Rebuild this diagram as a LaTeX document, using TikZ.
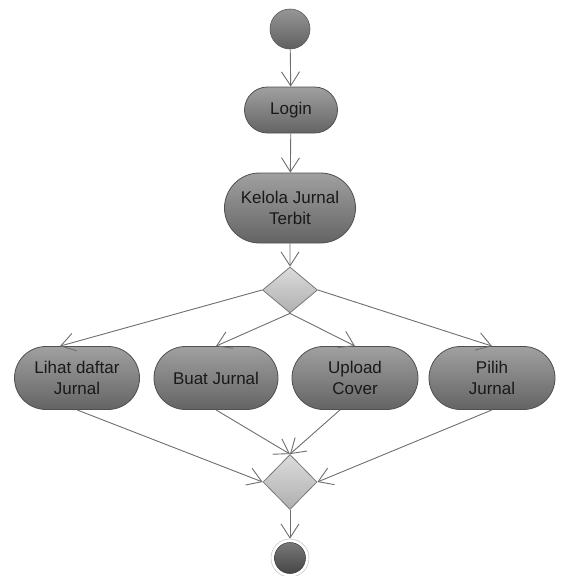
\documentclass[tikz,border=0pt]{standalone}
\usepackage{fontspec}
\setmainfont{Liberation Sans}
\usetikzlibrary{shapes.misc,shapes.geometric,arrows.meta,calc}
\begin{document}
\begin{tikzpicture}[x=1pt,y=-1pt,
  act/.style={rounded rectangle, draw={rgb,255:red,80;green,80;blue,80}, line width=0.8pt,
    top color={rgb,255:red,160;green,160;blue,160}, bottom color={rgb,255:red,100;green,100;blue,100},
    minimum height=63pt, inner sep=2pt, align=center, font=\fontsize{17}{21}\selectfont, text=black!90},
  dec/.style={diamond, draw={rgb,255:red,120;green,120;blue,120}, line width=0.8pt, inner sep=0pt,
    top color={rgb,255:red,220;green,220;blue,220}, bottom color={rgb,255:red,175;green,175;blue,175}},
  flow/.style={draw={rgb,255:red,110;green,110;blue,110}, line width=0.9pt,
    -{Straight Barb[length=14pt,width=18pt,line width=0.9pt]}}]
\useasboundingbox (0,0) rectangle (561,576);
\node[circle, draw={rgb,255:red,90;green,90;blue,90}, line width=0.6pt, minimum size=40pt, inner sep=0pt,
  top color={rgb,255:red,150;green,150;blue,150}, bottom color={rgb,255:red,95;green,95;blue,95}] (start) at (290,29) {};
\node[act, minimum width=97pt, minimum height=46pt] (login) at (291,110) {Login};
\node[act, minimum width=135pt, minimum height=70pt] (kelola) at (290,208) {Kelola Jurnal\\Terbit};
\node[dec, minimum width=55pt, minimum height=46pt] (d1) at (290,290) {};
\node[act, minimum width=129pt] (lihat) at (77,378) {Lihat daftar\\Jurnal};
\node[act, minimum width=128pt] (buat) at (216,378) {Buat Jurnal};
\node[act, minimum width=130pt] (upload) at (355,378) {Upload\\Cover};
\node[act, minimum width=130pt] (pilih) at (492,378) {Pilih\\Jurnal};
\node[dec, minimum width=54pt, minimum height=55pt] (d2) at (290,482) {};
\node[circle, draw={rgb,255:red,200;green,200;blue,200}, line width=0.6pt, minimum size=38pt, inner sep=0pt] (endring) at (290,558) {};
\node[circle, draw={rgb,255:red,70;green,70;blue,70}, line width=0.6pt, minimum size=31pt, inner sep=0pt,
  top color={rgb,255:red,120;green,120;blue,120}, bottom color={rgb,255:red,70;green,70;blue,70}] (end) at (290,558) {};
\draw[flow] (start) -- (login);
\draw[flow] (login) -- (kelola);
\draw[flow] (kelola) -- (d1);
\draw[flow] (d1.west) -- ([xshift=-17pt]lihat.north);
\draw[flow] (d1.south) -- (buat.north);
\draw[flow] (d1.south) -- (upload.north);
\draw[flow] (d1.east) -- (pilih.north);
\draw[flow] (lihat.south) -- (d2.west);
\draw[flow] (buat.south) -- (d2.north);
\draw[flow] ([xshift=-15pt]upload.south) -- (d2.north);
\draw[flow] (pilih.south) -- (d2.east);
\draw[flow] (d2.south) -- (endring.north);
\end{tikzpicture}
\end{document}
